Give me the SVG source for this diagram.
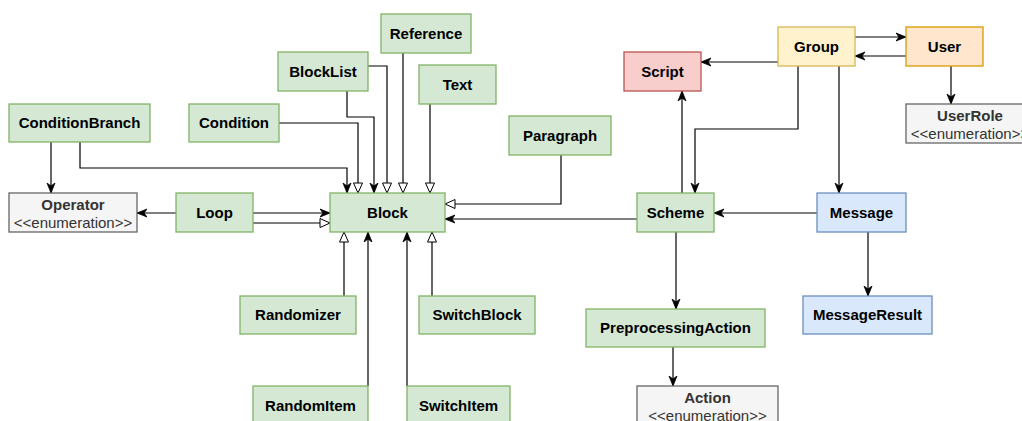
<svg xmlns="http://www.w3.org/2000/svg" width="1022" height="421" viewBox="0 0 1022 421">
<style>
.n{stroke-width:1.3}
.g{fill:#d5e8d4;stroke:#82b366}
.e{fill:#f5f5f5;stroke:#666666}
.r{fill:#f8cecc;stroke:#b85450}
.y{fill:#fff2cc;stroke:#d6b656}
.o{fill:#ffe6cc;stroke:#d79b00}
.b{fill:#dae8fc;stroke:#6c8ebf}
text{font-family:"Liberation Sans",Arial,Helvetica,sans-serif;font-size:15px;text-anchor:middle}
.t{font-weight:bold;fill:#000}
.et{font-weight:bold;fill:#333333}
.es{fill:#333333}
.c path{fill:none;stroke:#000;stroke-width:1.2}
.a{marker-end:url(#arr)}
.i{marker-end:url(#tri)}
</style>
<defs>
<marker id="arr" markerUnits="userSpaceOnUse" markerWidth="12" markerHeight="10" refX="10" refY="5" orient="auto">
<path d="M0,1 L10,5 L0,9 L3,5 Z" fill="#000" stroke="#000" stroke-width="0.8"/>
</marker>
<marker id="tri" markerUnits="userSpaceOnUse" markerWidth="13" markerHeight="12" refX="11" refY="6" orient="auto">
<path d="M1,1.5 L11,6 L1,10.5 Z" fill="#fff" stroke="#000" stroke-width="1"/>
</marker>
</defs>
<g class="c" id="connectors">
<path class="a" d="M51,142 V193"/>
<path class="a" d="M80,142 V168 H347 V193"/>
<path class="i" d="M279,123 H358 V193"/>
<path class="a" d="M347,91 V117 H374 V193"/>
<path class="i" d="M368,66 H387 V193"/>
<path class="i" d="M403,53 V193"/>
<path class="i" d="M430,104 V193"/>
<path class="i" d="M561,155 V204 H445"/>
<path class="a" d="M176,213 H137"/>
<path class="a" d="M253,213 H330"/>
<path class="i" d="M253,223 H330"/>
<path class="i" d="M344,296 V232"/>
<path class="i" d="M432,296 V232"/>
<path class="a" d="M368,386 V232"/>
<path class="a" d="M407,386 V232"/>
<path class="a" d="M637,219 H445"/>
<path class="a" d="M817,213 H714"/>
<path class="a" d="M682,193 V91"/>
<path class="a" d="M798,66 V129 H695 V193"/>
<path class="a" d="M839,66 V193"/>
<path class="a" d="M778,62 H701"/>
<path class="a" d="M855,37 H906"/>
<path class="a" d="M906,56 H855"/>
<path class="a" d="M951,66 V104"/>
<path class="a" d="M868,232 V296"/>
<path class="a" d="M676,232 V309"/>
<path class="a" d="M673,347 V386"/>
</g>
<g id="ConditionBranch"><rect class="n g" x="9" y="104" width="141" height="38"/><text class="t" x="79.5" y="128">ConditionBranch</text></g>
<g id="Condition"><rect class="n g" x="189" y="104" width="90" height="38"/><text class="t" x="234" y="128">Condition</text></g>
<g id="Operator"><rect class="n e" x="9" y="193" width="128" height="39"/><text class="et" x="73" y="209.5">Operator</text><text class="es" x="73" y="228">&lt;&lt;enumeration&gt;&gt;</text></g>
<g id="Loop"><rect class="n g" x="176" y="193" width="77" height="39"/><text class="t" x="214.5" y="218">Loop</text></g>
<g id="BlockList"><rect class="n g" x="278" y="52" width="90" height="39"/><text class="t" x="323" y="77">BlockList</text></g>
<g id="Reference"><rect class="n g" x="381" y="14" width="90" height="39"/><text class="t" x="426" y="39">Reference</text></g>
<g id="Text"><rect class="n g" x="419" y="65" width="77" height="39"/><text class="t" x="457.5" y="90">Text</text></g>
<g id="Paragraph"><rect class="n g" x="509" y="116" width="102" height="39"/><text class="t" x="560" y="141">Paragraph</text></g>
<g id="Block"><rect class="n g" x="330" y="193" width="115" height="39"/><text class="t" x="387.5" y="218">Block</text></g>
<g id="Randomizer"><rect class="n g" x="240" y="296" width="116" height="38"/><text class="t" x="298" y="320">Randomizer</text></g>
<g id="SwitchBlock"><rect class="n g" x="419" y="296" width="116" height="38"/><text class="t" x="477" y="320">SwitchBlock</text></g>
<g id="RandomItem"><rect class="n g" x="253" y="386" width="115" height="39"/><text class="t" x="310.5" y="411">RandomItem</text></g>
<g id="SwitchItem"><rect class="n g" x="407" y="386" width="103" height="39"/><text class="t" x="458.5" y="411">SwitchItem</text></g>
<g id="Script"><rect class="n r" x="624" y="52" width="77" height="39"/><text class="t" x="662.5" y="77">Script</text></g>
<g id="Group"><rect class="n y" x="778" y="27" width="77" height="39"/><text class="t" x="816.5" y="52">Group</text></g>
<g id="User"><rect class="n o" x="906" y="27" width="77" height="39"/><text class="t" x="944.5" y="52">User</text></g>
<g id="UserRole"><rect class="n e" x="906" y="104" width="128" height="39"/><text class="et" x="970" y="120.5">UserRole</text><text class="es" x="970" y="139">&lt;&lt;enumeration&gt;&gt;</text></g>
<g id="Scheme"><rect class="n g" x="637" y="193" width="77" height="39"/><text class="t" x="675.5" y="218">Scheme</text></g>
<g id="Message"><rect class="n b" x="817" y="193" width="89" height="39"/><text class="t" x="861.5" y="218">Message</text></g>
<g id="MessageResult"><rect class="n b" x="803" y="296" width="129" height="38"/><text class="t" x="867.5" y="320">MessageResult</text></g>
<g id="PreprocessingAction"><rect class="n g" x="586" y="309" width="179" height="38"/><text class="t" x="675.5" y="333">PreprocessingAction</text></g>
<g id="Action"><rect class="n e" x="637" y="386" width="141" height="39"/><text class="et" x="707.5" y="402.5">Action</text><text class="es" x="707.5" y="421">&lt;&lt;enumeration&gt;&gt;</text></g>
</svg>
